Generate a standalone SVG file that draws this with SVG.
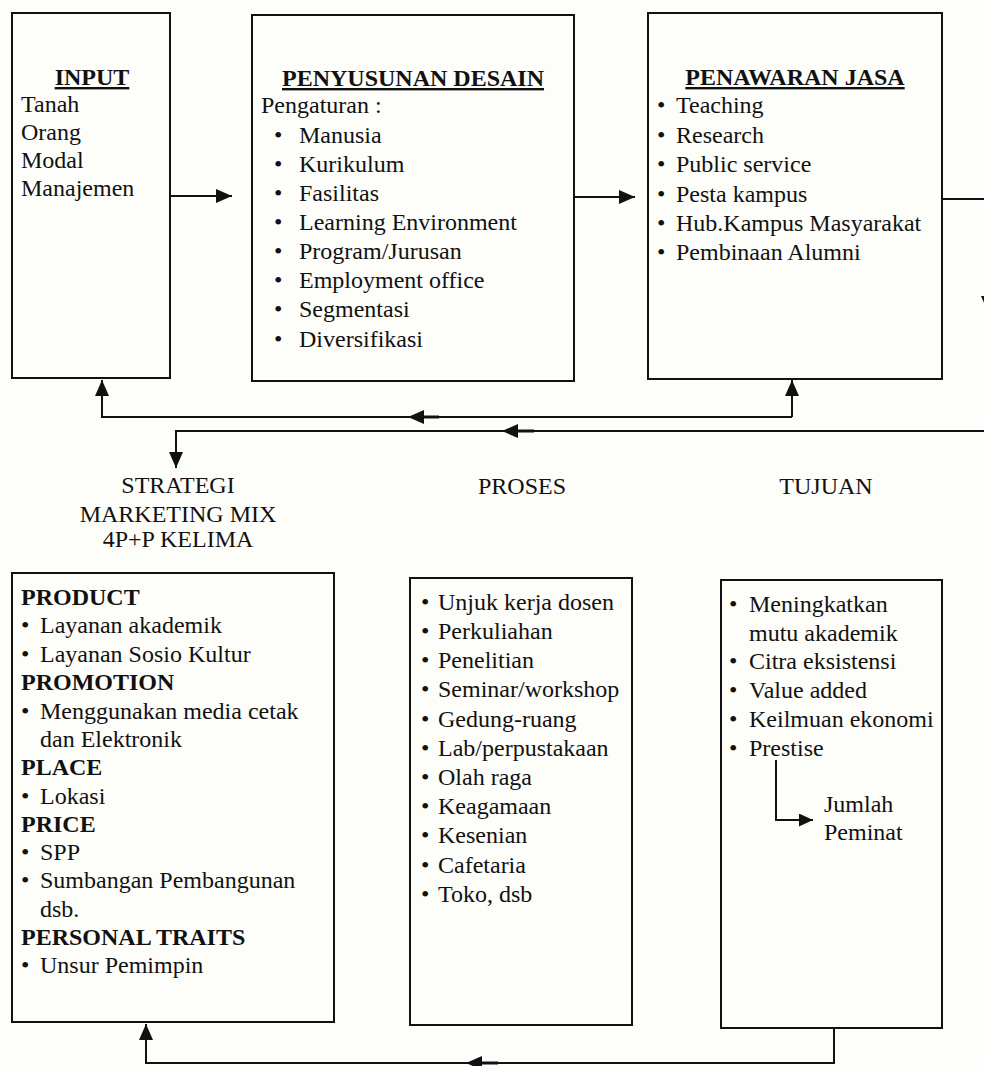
<svg xmlns="http://www.w3.org/2000/svg" width="984" height="1066" viewBox="0 0 984 1066">
<style>
  text { font-family: "Liberation Serif", "Times New Roman", serif; font-size: 24px; fill: #111; }
  .b { font-weight: bold; }
  .t { font-weight: bold; text-decoration: underline; text-anchor: middle; }
  .c { text-anchor: middle; }
  .box { fill: #fdfdfa; stroke: #111; stroke-width: 2; }
  .ln { fill: none; stroke: #111; stroke-width: 2; }
  .ah { fill: #111; stroke: none; }
</style>
<defs>
  <marker id="arr" markerUnits="userSpaceOnUse" markerWidth="16" markerHeight="14" refX="16" refY="7" orient="auto">
    <path d="M0,0 L16,7 L0,14 z" fill="#111"/>
  </marker>
  <marker id="arrs" markerUnits="userSpaceOnUse" markerWidth="14" markerHeight="13" refX="14" refY="6.5" orient="auto">
    <path d="M0,0 L14,6.5 L0,13 z" fill="#111"/>
  </marker>
</defs>
<rect x="0" y="0" width="984" height="1066" fill="#fdfdfa"/>

<g id="input">
  <rect class="box" x="12" y="13" width="158" height="365"/>
  <text class="t" x="92" y="85">INPUT</text>
  <text x="21" y="112">Tanah</text>
  <text x="21" y="140">Orang</text>
  <text x="21" y="168">Modal</text>
  <text x="21" y="196">Manajemen</text>
</g>

<g id="penyusunan-desain">
  <rect class="box" x="252" y="15" width="322" height="366"/>
  <text class="t" x="413" y="86">PENYUSUNAN DESAIN</text>
  <text x="261" y="113">Pengaturan :</text>
  <g>
    <text x="274" y="143">•</text><text x="299" y="143">Manusia</text>
    <text x="274" y="172">•</text><text x="299" y="172">Kurikulum</text>
    <text x="274" y="201">•</text><text x="299" y="201">Fasilitas</text>
    <text x="274" y="230">•</text><text x="299" y="230">Learning Environment</text>
    <text x="274" y="259">•</text><text x="299" y="259">Program/Jurusan</text>
    <text x="274" y="288">•</text><text x="299" y="288">Employment office</text>
    <text x="274" y="317">•</text><text x="299" y="317">Segmentasi</text>
    <text x="274" y="347">•</text><text x="299" y="347">Diversifikasi</text>
  </g>
</g>

<g id="penawaran-jasa">
  <rect class="box" x="648" y="13" width="294" height="366"/>
  <text class="t" x="795" y="85">PENAWARAN JASA</text>
  <text x="657" y="113">•</text><text x="676" y="113">Teaching</text>
  <text x="657" y="143">•</text><text x="676" y="143">Research</text>
  <text x="657" y="172">•</text><text x="676" y="172">Public service</text>
  <text x="657" y="202">•</text><text x="676" y="202">Pesta kampus</text>
  <text x="657" y="231">•</text><text x="676" y="231">Hub.Kampus Masyarakat</text>
  <text x="657" y="260">•</text><text x="676" y="260">Pembinaan Alumni</text>
</g>

<g id="label-strategi">
  <text class="c" x="178" y="493">STRATEGI</text>
  <text class="c" x="178" y="522">MARKETING MIX</text>
  <text class="c" x="178" y="547">4P+P KELIMA</text>
</g>
<g id="label-proses">
  <text class="c" x="522" y="494">PROSES</text>
</g>
<g id="label-tujuan">
  <text class="c" x="826" y="494">TUJUAN</text>
</g>

<g id="strategi">
  <rect class="box" x="12" y="573" width="322" height="449"/>
  <text class="b" x="21" y="605">PRODUCT</text>
  <text x="21" y="633">•</text><text x="40" y="633">Layanan akademik</text>
  <text x="21" y="662">•</text><text x="40" y="662">Layanan Sosio Kultur</text>
  <text class="b" x="21" y="690">PROMOTION</text>
  <text x="21" y="719">•</text><text x="40" y="719">Menggunakan media cetak</text>
  <text x="40" y="747">dan Elektronik</text>
  <text class="b" x="21" y="775">PLACE</text>
  <text x="21" y="804">•</text><text x="40" y="804">Lokasi</text>
  <text class="b" x="21" y="832">PRICE</text>
  <text x="21" y="860">•</text><text x="40" y="860">SPP</text>
  <text x="21" y="888">•</text><text x="40" y="888">Sumbangan Pembangunan</text>
  <text x="40" y="917">dsb.</text>
  <text class="b" x="21" y="945">PERSONAL TRAITS</text>
  <text x="21" y="973">•</text><text x="40" y="973">Unsur Pemimpin</text>
</g>

<g id="proses">
  <rect class="box" x="410" y="578" width="222" height="447"/>
  <text x="421" y="610">•</text><text x="438" y="610">Unjuk kerja dosen</text>
  <text x="421" y="639">•</text><text x="438" y="639">Perkuliahan</text>
  <text x="421" y="668">•</text><text x="438" y="668">Penelitian</text>
  <text x="421" y="697">•</text><text x="438" y="697">Seminar/workshop</text>
  <text x="421" y="727">•</text><text x="438" y="727">Gedung-ruang</text>
  <text x="421" y="756">•</text><text x="438" y="756">Lab/perpustakaan</text>
  <text x="421" y="785">•</text><text x="438" y="785">Olah raga</text>
  <text x="421" y="814">•</text><text x="438" y="814">Keagamaan</text>
  <text x="421" y="843">•</text><text x="438" y="843">Kesenian</text>
  <text x="421" y="873">•</text><text x="438" y="873">Cafetaria</text>
  <text x="421" y="902">•</text><text x="438" y="902">Toko, dsb</text>
</g>

<g id="tujuan">
  <rect class="box" x="721" y="580" width="221" height="448"/>
  <text x="729" y="612">•</text><text x="749" y="612">Meningkatkan</text>
  <text x="749" y="641">mutu akademik</text>
  <text x="729" y="669">•</text><text x="749" y="669">Citra eksistensi</text>
  <text x="729" y="698">•</text><text x="749" y="698">Value added</text>
  <text x="729" y="727">•</text><text x="749" y="727">Keilmuan ekonomi</text>
  <text x="729" y="756">•</text><text x="749" y="756">Prestise</text>
  <text x="824" y="812">Jumlah</text>
  <text x="824" y="840">Peminat</text>
</g>

<g id="connectors">
  <path class="ln" d="M170,196 H232" marker-end="url(#arr)"/>
  <path class="ln" d="M574,197 H635" marker-end="url(#arr)"/>
  <path class="ln" d="M942,199 H988 V312" marker-end="url(#arr)"/>
  <path class="ln" d="M792,417 V380" marker-end="url(#arr)"/>
  <path class="ln" d="M792,417 H102 V380" marker-end="url(#arr)"/>
  <path class="ah" d="M408,417 L424,410 L424,424 z"/>
  <path class="ln" d="M424,417 H439" style="stroke-width:3"/>
  <path class="ln" d="M984,431 H176 V468" marker-end="url(#arr)"/>
  <path class="ah" d="M502,431 L518,424 L518,438 z"/>
  <path class="ln" d="M518,431 H534" style="stroke-width:3"/>
  <path class="ln" d="M834,1028 V1063 H146 V1024" marker-end="url(#arr)"/>
  <path class="ah" d="M466,1063 L482,1056 L482,1070 z"/>
  <path class="ln" d="M482,1063 H498" style="stroke-width:3"/>
  <path class="ln" d="M776,760 V820 H813" marker-end="url(#arrs)"/>
</g>
</svg>
